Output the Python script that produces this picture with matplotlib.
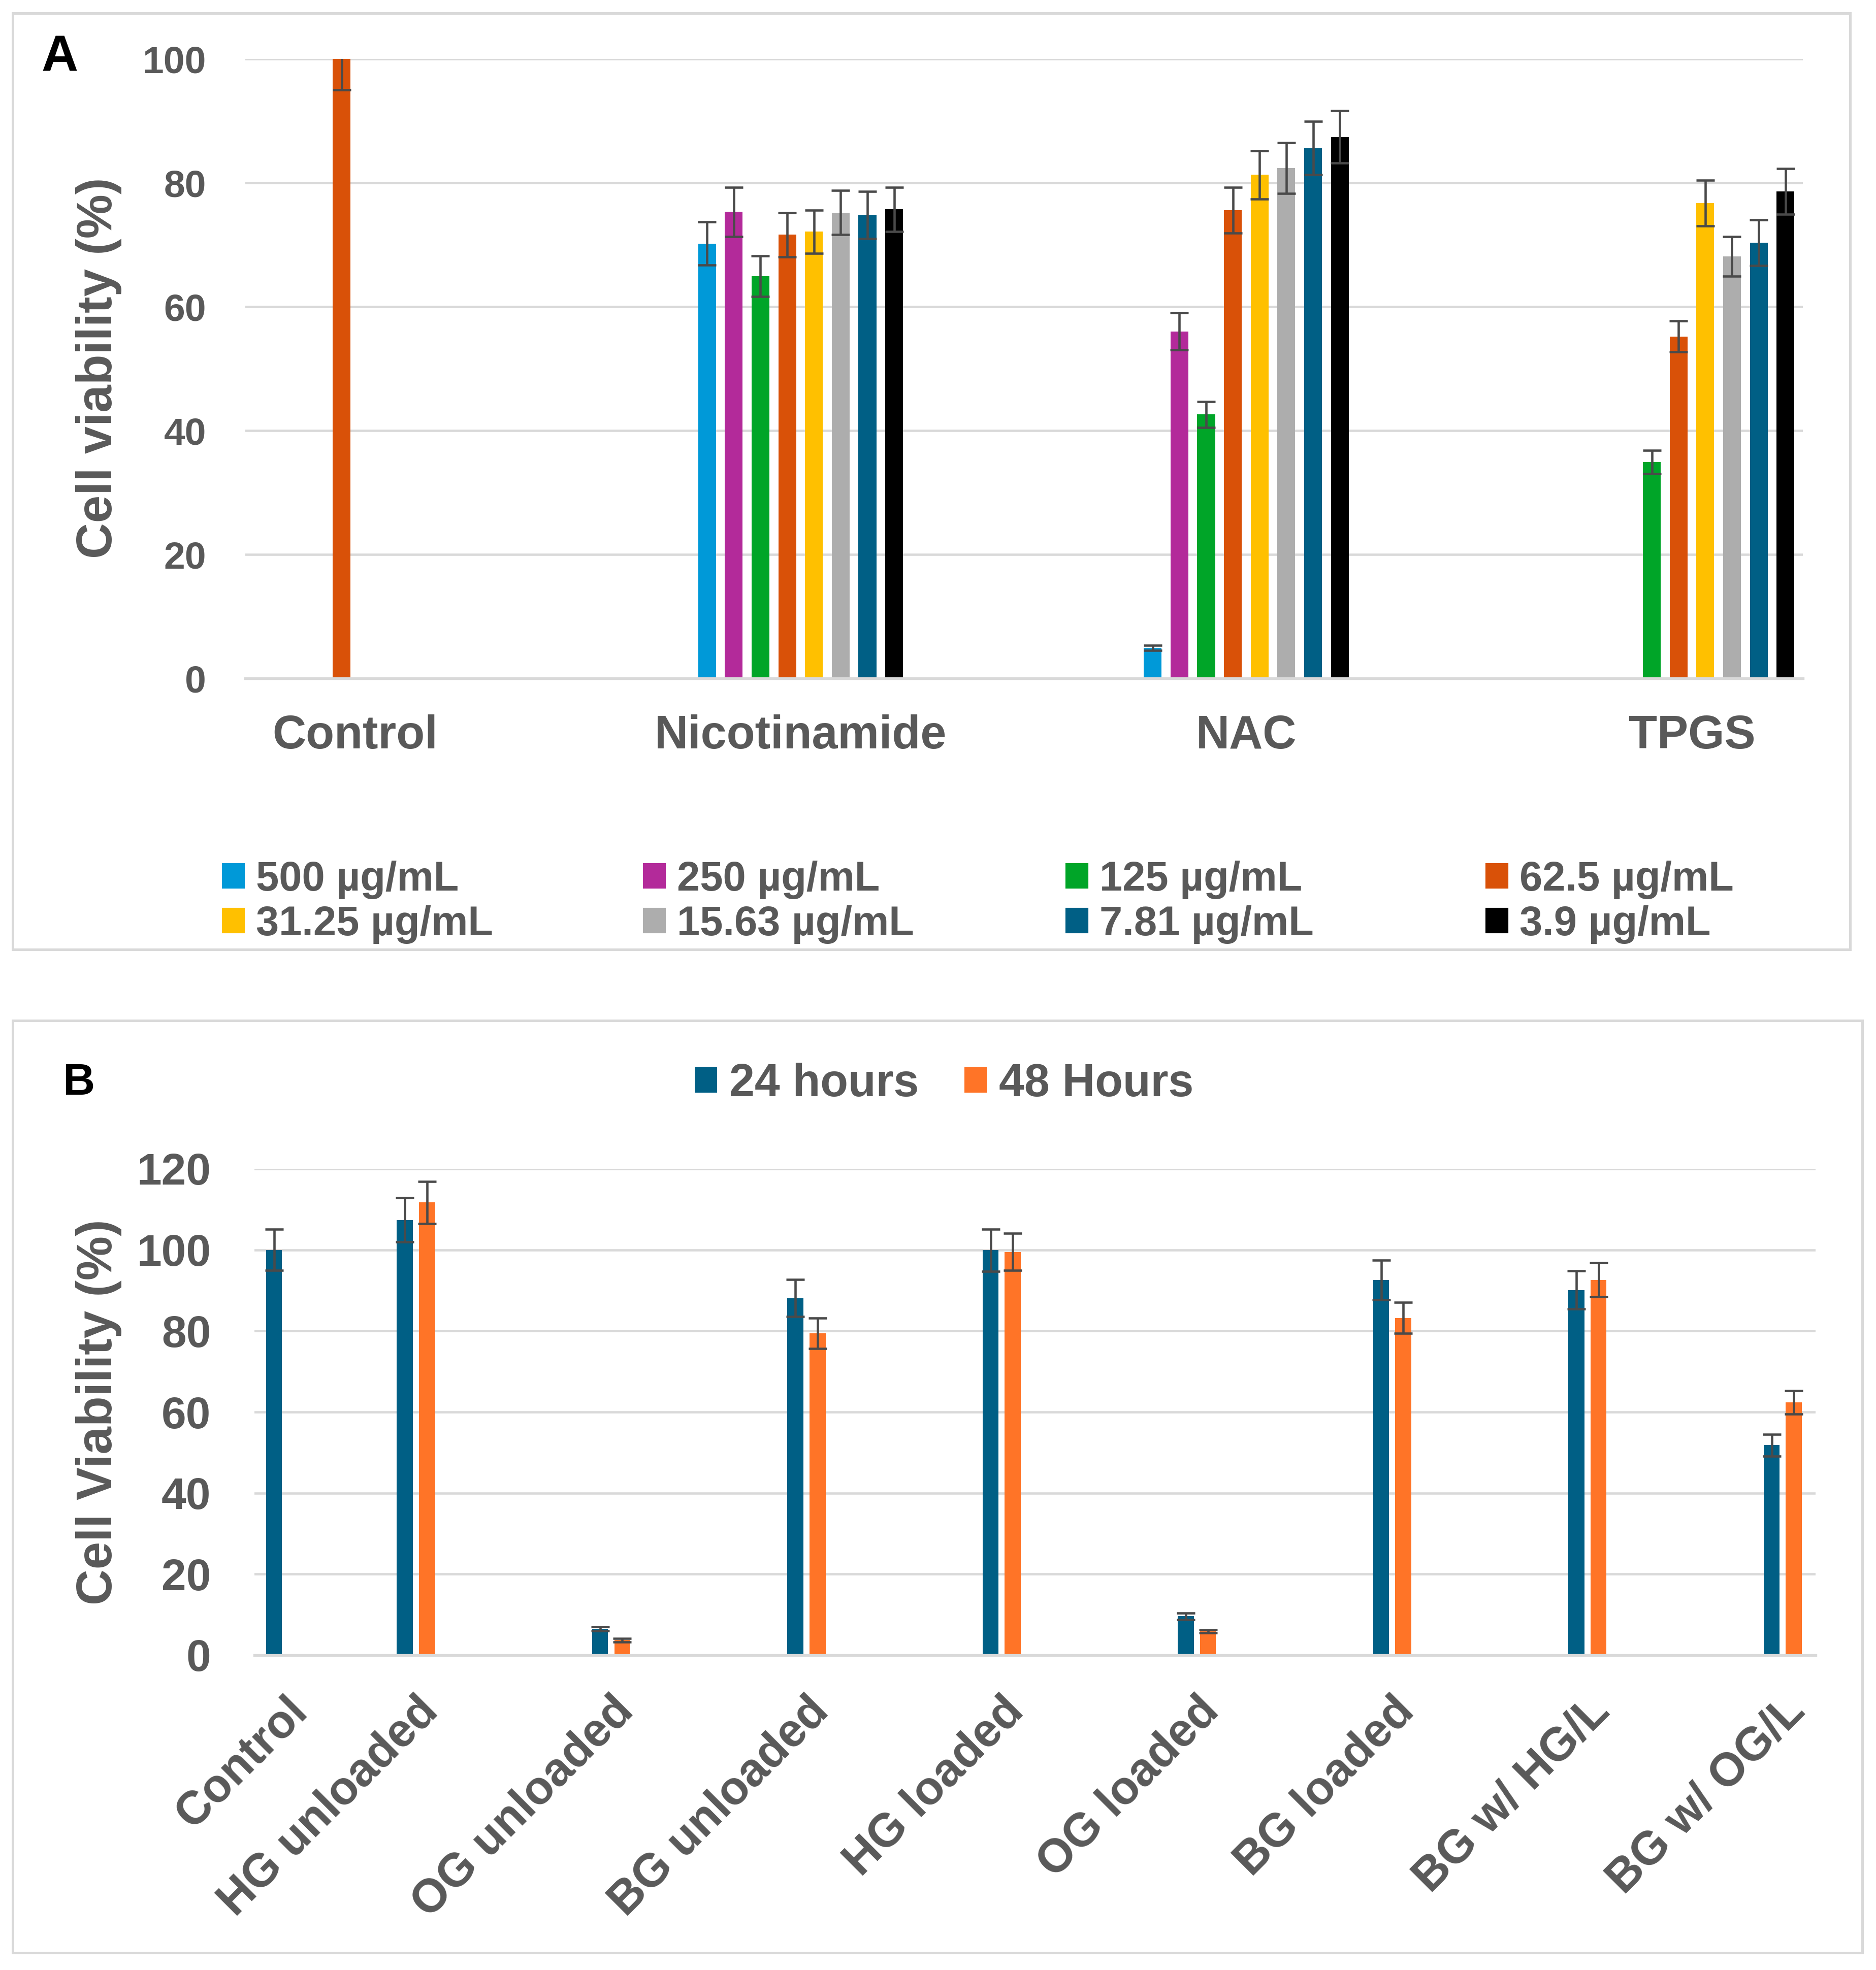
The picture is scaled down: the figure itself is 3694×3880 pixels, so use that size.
import numpy as np
import matplotlib
matplotlib.use('Agg')
from matplotlib import pyplot as plt
from matplotlib.patches import Rectangle, Patch

plt.rcParams['font.family'] = ['Liberation Sans', 'DejaVu Sans']
plt.rcParams['font.weight'] = 'bold'

# ---- data, panel A ----
a_groups = ['Control', 'Nicotinamide', 'NAC', 'TPGS']
a_series = ['500 µg/mL', '250 µg/mL', '125 µg/mL', '62.5 µg/mL',
            '31.25 µg/mL', '15.63 µg/mL', '7.81 µg/mL', '3.9 µg/mL']
nan = np.nan
# rows = series, columns = groups
a_vals = [
    [nan, 70.2, 4.9, nan],
    [nan, 75.3, 56.0, nan],
    [nan, 64.9, 42.6, 34.9],
    [100.0, 71.6, 75.6, 55.2],
    [nan, 72.1, 81.3, 76.7],
    [nan, 75.2, 82.4, 68.1],
    [nan, 74.8, 85.6, 70.3],
    [nan, 75.7, 87.4, 78.6],
]
a_errs = [
    [nan, 3.5, 0.4, nan],
    [nan, 4.0, 3.0, nan],
    [nan, 3.3, 2.1, 1.9],
    [5.0, 3.6, 3.7, 2.5],
    [nan, 3.5, 3.9, 3.7],
    [nan, 3.6, 4.1, 3.2],
    [nan, 3.8, 4.3, 3.7],
    [nan, 3.6, 4.2, 3.7],
]
a_colors = ['#0099d8', '#b32a9a', '#00a528', '#d95108',
            '#ffc000', '#adadad', '#005f85', '#000000']

# ---- data, panel B ----
b_groups = ['Control', 'HG unloaded', 'OG unloaded', 'BG unloaded', 'HG loaded',
            'OG loaded', 'BG loaded', 'BG w/ HG/L', 'BG w/ OG/L']
b_24h = [100.0, 107.4, 6.5, 88.1, 99.9, 9.6, 92.6, 90.1, 51.8]
b_24h_err = [5.1, 5.5, 0.5, 4.6, 5.2, 0.8, 4.9, 4.7, 2.7]
b_48h = [nan, 111.7, 3.7, 79.4, 99.5, 5.9, 83.2, 92.6, 62.4]
b_48h_err = [nan, 5.2, 0.4, 3.8, 4.6, 0.4, 3.8, 4.2, 2.9]
b_labels = ['24 hours', '48 Hours']
b_colors = ['#005f85', '#ff7427']

TXT = '#595959'
GRID = '#d9d9d9'
ERR = '#4a4a4a'

W, H = 3694, 3880
fig = plt.figure(figsize=(W / 300, H / 300), dpi=300)


def fx(px):
    return px / W


def fy(py):
    return 1 - py / H


def style_axes(ax, ytick_size):
    ax.set_axisbelow(True)
    ax.yaxis.grid(True, color=GRID, lw=1.1)
    for s in ['top', 'right', 'left']:
        ax.spines[s].set_visible(False)
    ax.spines['bottom'].set_color(GRID)
    ax.spines['bottom'].set_linewidth(1.3)
    ax.tick_params(axis='both', length=0, colors=TXT)
    ax.tick_params(axis='y', labelsize=ytick_size)


# panel borders
fig.add_artist(Rectangle((fx(25), fy(1870)), fx(3643) - fx(25), fy(26) - fy(1870),
                         transform=fig.transFigure, fill=False, ec=GRID, lw=1.2))
fig.add_artist(Rectangle((fx(25), fy(3846)), fx(3667) - fx(25), fy(2010) - fy(3846),
                         transform=fig.transFigure, fill=False, ec=GRID, lw=1.2))

# ---- panel A ----
axA = fig.add_axes([fx(483), fy(1336), fx(3550) - fx(483), fy(116) - fy(1336)])
xa = np.arange(len(a_groups))
step, bw = 0.06, 0.04
for i, (vals, errs, col) in enumerate(zip(a_vals, a_errs, a_colors)):
    pos = xa + (i - 3.5) * step
    axA.bar(pos, vals, width=bw, color=col, label=a_series[i])
    axA.errorbar(pos, vals, yerr=errs, fmt='none', ecolor=ERR, elinewidth=1.1,
                 capsize=4.3, capthick=1.1)
axA.set_xlim(-0.246, 3.249)
axA.set_ylim(0, 100)
axA.set_yticks(range(0, 101, 20))
axA.set_xticks(xa)
axA.set_xticklabels(a_groups, fontsize=22)
style_axes(axA, 18)
axA.tick_params(axis='y', pad=18.5)
axA.tick_params(axis='x', pad=17)

fig.text(fx(195), fy(725), 'Cell viability (%)', rotation=90, ha='center', va='center',
         fontsize=23.5, color=TXT)
fig.text(fx(118), fy(114), 'A', ha='center', va='center', fontsize=24, color='black')

# legend A: 4 columns, filled row by row like the original
leg_cols = [439, 1268, 2100, 2927]
for j, xpx in enumerate(leg_cols):
    hs = [Patch(color=a_colors[j]), Patch(color=a_colors[j + 4])]
    ls = [a_series[j], a_series[j + 4]]
    fig.legend(hs, ls, loc='center left', bbox_to_anchor=(fx(xpx), fy(1777)),
               bbox_transform=fig.transFigure, frameon=False, fontsize=19.5,
               handlelength=0.5, handleheight=0.5, handletextpad=0.3,
               labelspacing=0.15, borderpad=0, borderaxespad=0, labelcolor=TXT)

# ---- panel B ----
axB = fig.add_axes([fx(501), fy(3260), fx(3575) - fx(501), fy(2302) - fy(3260)])
xb = np.arange(len(b_groups), dtype=float)
xb[0] = 0.33  # control sits closer to the axis start in the original
off, bwb = 0.0567, 0.082
for k, (vals, errs) in enumerate([(b_24h, b_24h_err), (b_48h, b_48h_err)]):
    pos = xb + (k - 0.5) * 2 * off
    axB.bar(pos, vals, width=bwb, color=b_colors[k], label=b_labels[k])
    axB.errorbar(pos, vals, yerr=errs, fmt='none', ecolor=ERR, elinewidth=1.1,
                 capsize=4.3, capthick=1.1)
axB.set_xlim(0.173, 8.168)
axB.set_ylim(0, 120)
axB.set_yticks(range(0, 121, 20))
axB.set_xticks(xb)
axB.set_xticklabels(b_groups, fontsize=22, rotation=45, ha='right', va='top',
                    rotation_mode='anchor')
style_axes(axB, 21)
axB.tick_params(axis='y', pad=20.5)
axB.tick_params(axis='x', pad=16)

fig.text(fx(195), fy(2781), 'Cell Viability (%)', rotation=90, ha='center', va='center',
         fontsize=23.5, color=TXT)
fig.text(fx(155), fy(2134), 'B', ha='center', va='center', fontsize=21, color='black')

hb, lb = axB.get_legend_handles_labels()
fig.legend(hb, lb, loc='center', bbox_to_anchor=(fx(1859), fy(2135)),
           bbox_transform=fig.transFigure, ncol=2, frameon=False, fontsize=21.5,
           handlelength=0.49, handleheight=0.49, handletextpad=0.27,
           columnspacing=1.0, borderpad=0, borderaxespad=0, labelcolor=TXT)

fig.savefig('out.png', dpi=300, facecolor='white')
